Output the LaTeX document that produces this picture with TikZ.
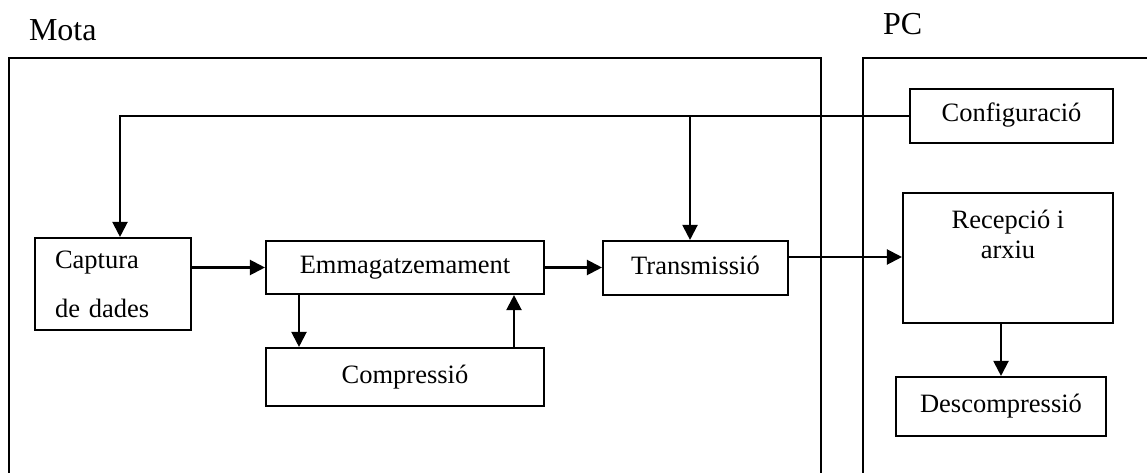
\documentclass[tikz,border=0pt]{standalone}
\usepackage{fontspec}
\setmainfont{Liberation Serif}
\usetikzlibrary{arrows.meta}
\begin{document}
\begin{tikzpicture}[x=1pt,y=-1pt,line width=2.1pt,
  boxbase/.style={draw,inner sep=0pt,font=\fontsize{26.5}{30}\selectfont},
  box/.style={boxbase,text height=18pt,text depth=6pt},
  arr/.style={-{Triangle[length=15pt,width=15pt]}},
  title/.style={anchor=base west,inner sep=0pt,font=\fontsize{32}{36}\selectfont}]
\useasboundingbox (0,0) rectangle (1147,473);
% frames
\draw (9,476) -- (9,58) -- (821,58) -- (821,476);
\draw (863,476) -- (863,58) -- (1150,58);
\node[title] (mota) at (28,41) {Mota};
\node[title] (pc) at (882,35) {PC};
% boxes
\node[box,minimum width=203pt,minimum height=54pt] (config) at (1011.5,116) {Configuració};
\node[boxbase,align=left,text width=116pt,inner xsep=20pt,inner ysep=0pt,minimum height=92pt,
  font=\fontsize{26.5}{47}\selectfont] (cap) at (113,284) {Captura\\[2pt]de dades};
\node[box,minimum width=278pt,minimum height=53pt] (emm) at (405,267.5) {Emmagatzemament};
\node[box,minimum width=278pt,minimum height=58pt] (comp) at (405,377) {Compressió};
\node[box,minimum width=185pt,minimum height=54pt] (trans) at (695.5,268) {Transmissió};
\node[boxbase,minimum width=210pt,minimum height=130pt] (rec) at (1008,258) {};
\node[anchor=north,inner sep=0pt,align=center,font=\fontsize{26.5}{30}\selectfont]
  (rectext) at ([yshift=-17pt]rec.north) {Recepció i\\arxiu};
\node[box,minimum width=210pt,minimum height=59pt] (desc) at (1001,406.5) {Descompressió};
% connectors
\coordinate (fb) at (120,116);
\coordinate (tb) at (690,116);
\draw[arr] (config.west) -- (fb) -- (fb |- cap.north);
\draw[arr] (tb) -- (tb |- trans.north);
\draw[arr] (cap.east |- emm.west) -- (emm.west);
\draw[arr] (emm.east) -- (trans.west |- emm.east);
\coordinate (dn) at (299,0);
\coordinate (up) at (514,0);
\draw[arr] (emm.south -| dn) -- (comp.north -| dn);
\draw[arr] (comp.north -| up) -- (emm.south -| up);
\coordinate (tx) at (0,257);
\draw[arr] (trans.east |- tx) -- (rec.west |- tx);
\draw[arr] (rec.south -| desc.north) -- (desc.north);
\end{tikzpicture}
\end{document}
